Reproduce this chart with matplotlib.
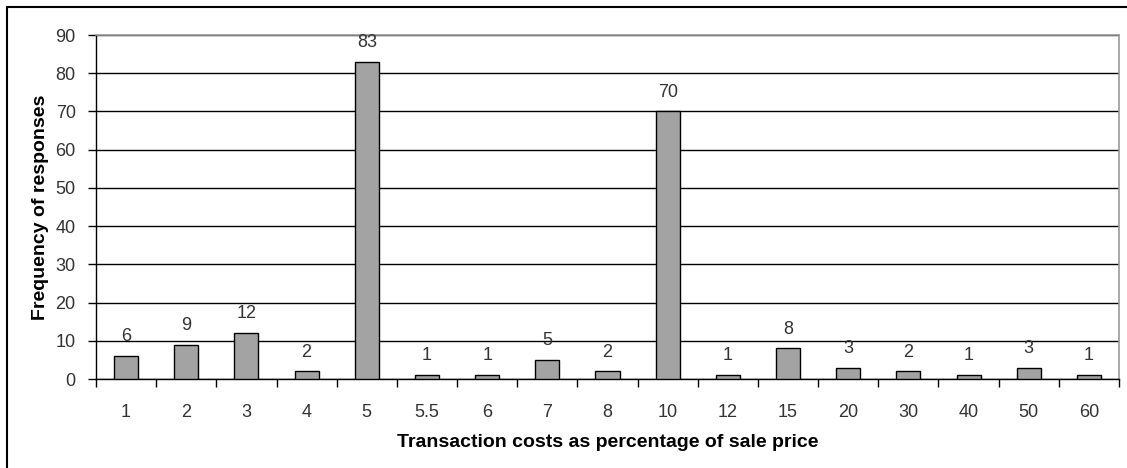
import matplotlib.pyplot as plt
from matplotlib.patches import Rectangle
from matplotlib.ticker import FixedLocator, NullFormatter
import numpy as np

plt.rcParams['font.family'] = ['Liberation Sans', 'DejaVu Sans']

# Categories (cost as % of sale price) and response counts
categories = ['1', '2', '3', '4', '5', '5.5', '6', '7', '8', '10',
              '12', '15', '20', '30', '40', '50', '60']
frequencies = [6, 9, 12, 2, 83, 1, 1, 5, 2, 70, 1, 8, 3, 2, 1, 3, 1]
y_ticks = [0, 10, 20, 30, 40, 50, 60, 70, 80, 90]

fig = plt.figure(figsize=(11.27, 4.68), dpi=100)
ax = fig.add_axes([96 / 1127, 1 - 379 / 468, (1119 - 96) / 1127, (379 - 35) / 468])

# outer chart frame
fig.patches.append(Rectangle((7 / 1127, -0.05), 1.1, 1 - 7 / 468 + 0.05,
                             transform=fig.transFigure, fill=False,
                             edgecolor='black', linewidth=1.5))

x = np.arange(len(categories))
ax.bar(x, frequencies, width=0.4, color='#A3A3A3', edgecolor='black',
       linewidth=1.0, zorder=3)

for xi, v in zip(x, frequencies):
    ax.text(xi, v + 2.8, str(v), ha='center', va='bottom', fontsize=13, color='#333333')

ax.set_xlim(-0.5, len(categories) - 0.5)
ax.set_ylim(0, 90)
ax.set_yticks(y_ticks)
ax.yaxis.grid(True, color='black', linewidth=1.0, zorder=0)
ax.set_axisbelow(True)

ax.set_xticks(x)
ax.set_xticklabels(categories)
ax.xaxis.set_minor_locator(FixedLocator(np.arange(-0.5, len(categories), 1.0)))
ax.xaxis.set_minor_formatter(NullFormatter())
ax.tick_params(axis='x', which='major', length=0, pad=18, labelsize=13, colors='#333333')
ax.tick_params(axis='x', which='minor', length=6, width=1, color='black')
ax.tick_params(axis='y', length=6, width=1, pad=8.6, labelsize=13, colors='#333333')
ax.tick_params(axis='y', color='black')

for side in ['top', 'right']:
    ax.spines[side].set_color('#999999')
    ax.spines[side].set_linewidth(1.2)
for side in ['left', 'bottom']:
    ax.spines[side].set_color('black')
    ax.spines[side].set_linewidth(1.0)

ax.set_xlabel('Transaction costs as percentage of sale price', fontsize=14,
              fontweight='bold')
ax.set_ylabel('Frequency of responses', fontsize=14, fontweight='bold')
ax.xaxis.set_label_coords(0.5, -0.16)
ax.yaxis.set_label_coords(-0.046, 0.5)

fig.savefig('out.png', dpi=100)
